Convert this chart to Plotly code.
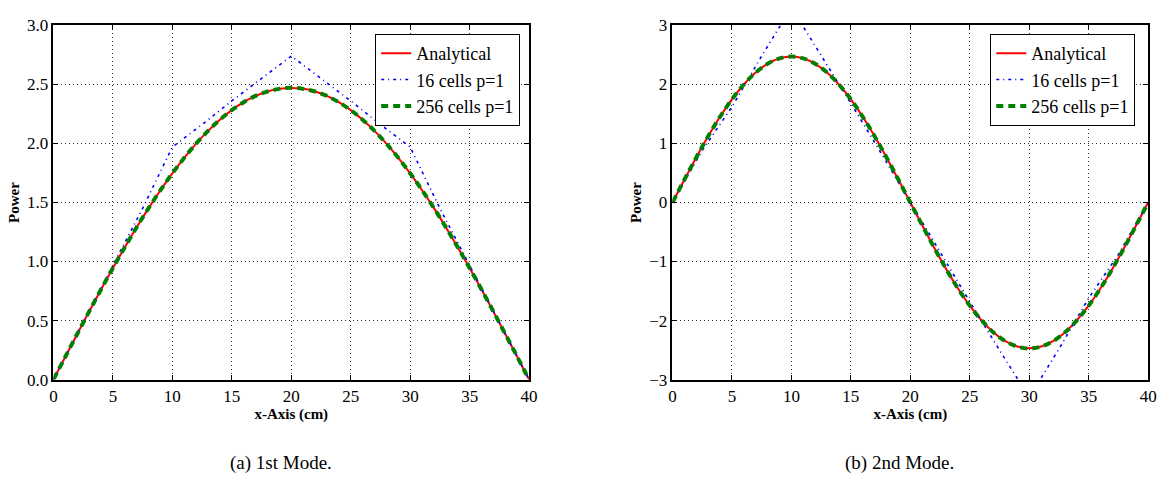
import plotly.graph_objects as go

# ---------------- data ----------------
x_fine = list(range(0, 41))
# Mode 1 analytical (peak ~2.47 at x=20)
mode1_analytical = [0.000, 0.194, 0.386, 0.576, 0.763, 0.945, 1.121, 1.291, 1.452, 1.604,
                    1.747, 1.878, 1.998, 2.106, 2.201, 2.282, 2.349, 2.402, 2.440, 2.462,
                    2.470, 2.462, 2.440, 2.402, 2.349, 2.282, 2.201, 2.106, 1.998, 1.878,
                    1.747, 1.604, 1.452, 1.291, 1.121, 0.945, 0.763, 0.576, 0.386, 0.194,
                    0.000]
mode1_256 = [0.000, 0.194, 0.386, 0.576, 0.763, 0.945, 1.121, 1.291, 1.452, 1.604,
             1.747, 1.878, 1.998, 2.106, 2.201, 2.282, 2.349, 2.402, 2.440, 2.462,
             2.472, 2.462, 2.440, 2.402, 2.349, 2.282, 2.201, 2.106, 1.998, 1.878,
             1.747, 1.604, 1.452, 1.291, 1.121, 0.945, 0.763, 0.576, 0.386, 0.194,
             0.000]
x_coarse = [0, 2.5, 5, 7.5, 10, 12.5, 15, 17.5, 20, 22.5, 25, 27.5, 30, 32.5, 35, 37.5, 40]
mode1_16 = [0.00, 0.48, 0.97, 1.45, 1.97, 2.16, 2.36, 2.55, 2.74,
            2.55, 2.36, 2.16, 1.97, 1.45, 0.97, 0.48, 0.00]

# Mode 2
mode2_analytical = [0.000, 0.386, 0.763, 1.121, 1.452, 1.747, 1.998, 2.201, 2.349, 2.440,
                    2.470, 2.440, 2.349, 2.201, 1.998, 1.747, 1.452, 1.121, 0.763, 0.386,
                    0.000, -0.386, -0.763, -1.121, -1.452, -1.747, -1.998, -2.201, -2.349, -2.440,
                    -2.470, -2.440, -2.349, -2.201, -1.998, -1.747, -1.452, -1.121, -0.763, -0.386,
                    0.000]
mode2_256 = [0.000, 0.386, 0.763, 1.121, 1.452, 1.747, 1.998, 2.201, 2.349, 2.440,
             2.472, 2.440, 2.349, 2.201, 1.998, 1.747, 1.452, 1.121, 0.763, 0.386,
             0.000, -0.386, -0.763, -1.121, -1.452, -1.747, -1.998, -2.201, -2.349, -2.440,
             -2.472, -2.440, -2.349, -2.201, -1.998, -1.747, -1.452, -1.121, -0.763, -0.386,
             0.000]
mode2_16 = [0.00, 0.88, 1.62, 2.48, 3.30, 2.50, 1.68, 0.85, 0.00,
            -0.85, -1.68, -2.50, -3.30, -2.48, -1.62, -0.88, 0.00]

x_ticks = [0, 5, 10, 15, 20, 25, 30, 35, 40]
legend_names = ["Analytical", "16 cells p=1", "256 cells p=1"]
captions = ["(a) 1st Mode.", "(b) 2nd Mode."]

# ---------------- figure ----------------
W, H = 1168, 477
FONT = "'Times New Roman', 'Liberation Serif', 'DejaVu Serif', serif"
fig = go.Figure()

def add_panel(xa, ya, leg, analytical, coarse, fine256):
    fig.add_trace(go.Scatter(x=x_fine, y=analytical, mode="lines", name=legend_names[0],
                             line=dict(color="#ff0000", width=2, shape="spline"),
                             xaxis=xa, yaxis=ya, legend=leg))
    fig.add_trace(go.Scatter(x=x_coarse, y=coarse, mode="lines", name=legend_names[1],
                             line=dict(color="#0000ff", width=1.6, dash="3px,4px,1px,4px"),
                             xaxis=xa, yaxis=ya, legend=leg))
    fig.add_trace(go.Scatter(x=x_fine, y=fine256, mode="lines", name=legend_names[2],
                             line=dict(color="#008000", width=4, dash="7px,5px", shape="spline"),
                             xaxis=xa, yaxis=ya, legend=leg))

add_panel("x", "y", "legend", mode1_analytical, mode1_16, mode1_256)
add_panel("x2", "y2", "legend2", mode2_analytical, mode2_16, mode2_256)

ytop = 1 - 17 / H
ybot = 1 - 386 / H

axis_common = dict(
    showline=True, linecolor="black", linewidth=1.5, mirror="ticks",
    ticks="inside", ticklen=5, tickcolor="black", tickwidth=1,
    showgrid=True, gridcolor="#333333", gridwidth=1, griddash="1px,3px",
    zeroline=False, tickfont=dict(family=FONT, size=17, color="black"),
)

fig.update_layout(
    width=W, height=H,
    margin=dict(l=0, r=0, t=0, b=0),
    paper_bgcolor="white", plot_bgcolor="white",
    font=dict(family=FONT, color="black"),
    xaxis=dict(domain=[50 / W, 531 / W], range=[0, 40], tickvals=x_ticks,
               title=dict(text="<b>x-Axis (cm)</b>", font=dict(family=FONT, size=15), standoff=0),
               anchor="y", **axis_common),
    yaxis=dict(domain=[ybot, ytop], range=[0, 3], dtick=0.5, tickformat=".1f",
               title=dict(text="<b>Power</b>", font=dict(family=FONT, size=15), standoff=4),
               anchor="x", **axis_common),
    xaxis2=dict(domain=[676 / W, 1157 / W], range=[0, 40], tickvals=x_ticks,
                title=dict(text="<b>x-Axis (cm)</b>", font=dict(family=FONT, size=15), standoff=0),
                anchor="y2", **axis_common),
    yaxis2=dict(domain=[ybot, ytop], range=[-3, 3], dtick=1,
                title=dict(text="<b>Power</b>", font=dict(family=FONT, size=15), standoff=4),
                anchor="x2", **axis_common),
    legend=dict(x=522 / W, y=1 - 26 / H, xanchor="right", yanchor="top",
                bgcolor="white", bordercolor="black", borderwidth=1,
                font=dict(family=FONT, size=18, color="black"), tracegroupgap=0),
    legend2=dict(x=1144 / W, y=1 - 26 / H, xanchor="right", yanchor="top",
                 bgcolor="white", bordercolor="black", borderwidth=1,
                 font=dict(family=FONT, size=18, color="black"), tracegroupgap=0),
    annotations=[
        dict(text=captions[0], x=280 / W, y=1 - 473 / H, xref="paper", yref="paper",
             xanchor="center", yanchor="middle",
             showarrow=False, font=dict(family=FONT, size=19, color="black")),
        dict(text=captions[1], x=906 / W, y=1 - 473 / H, xref="paper", yref="paper",
             xanchor="center", yanchor="middle",
             showarrow=False, font=dict(family=FONT, size=19, color="black")),
    ],
)

fig.write_html("out.html")
